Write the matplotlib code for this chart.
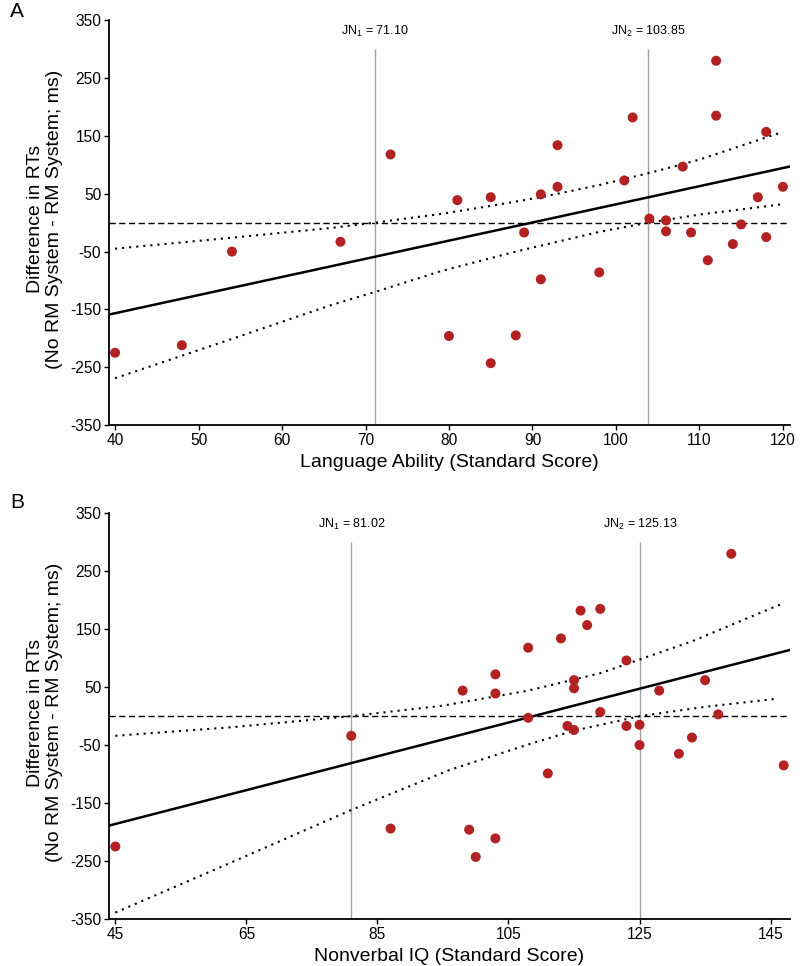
import matplotlib
matplotlib.use('Agg')
import matplotlib.pyplot as plt

plt.rcParams['font.family'] = ['Liberation Sans', 'DejaVu Sans']
plt.rcParams['axes.unicode_minus'] = False

# ---- panel A: language ability ----
lang = [40, 48, 54, 67, 73, 80, 81, 85, 85, 88, 89, 91, 91, 93, 93, 98,
        101, 102, 104, 106, 106, 108, 109, 111, 112, 112, 114, 115, 117, 118, 118, 120]
diff_a = [-225, -212, -50, -33, 118, -196, 39, 44, -243, -195, -17, 49, -98, 62, 134, -86,
          73, 182, 7, 4, -15, 97, -17, -65, 280, 185, -37, -3, 44, 157, -25, 62]

fit_a_x = [39.25, 120.8]
fit_a_y = [-159, 97]

band_a_up_x = [40, 54, 66, 71.1, 79, 85, 91, 98, 104, 110, 120]
band_a_up_y = [-45, -26, -9, 0, 15, 29, 44, 65, 86, 109, 157]
band_a_lo_x = [40, 54, 66, 71.1, 79, 88, 98, 103.85, 110, 120]
band_a_lo_y = [-269, -201, -142, -120, -84, -50, -16, 0, 14, 32]

jn_a = [71.10, 103.85]
xticks_a = [40, 50, 60, 70, 80, 90, 100, 110, 120]

# ---- panel B: nonverbal IQ ----
nviq = [45, 81, 87, 98, 99, 100, 103, 103, 103, 108, 108, 111, 113, 114, 115, 115,
        115, 116, 117, 119, 119, 123, 123, 125, 125, 128, 131, 133, 135, 137, 139, 147]
diff_b = [-225, -34, -194, 44, -196, -243, 72, 39, -211, 118, -3, -99, 134, -17, 62, 48,
          -24, 182, 157, 185, 7, 96, -17, -15, -50, 44, -65, -37, 62, 3, 280, -85]

fit_b_x = [44.0, 147.9]
fit_b_y = [-189, 114]

band_b_up_x = [45, 63, 81.02, 95, 108, 119, 133, 147]
band_b_up_y = [-34, -19, 0, 18, 44, 74, 129, 195]
band_b_lo_x = [45, 63, 81, 96, 108, 115, 125.13, 135, 146]
band_b_lo_y = [-339, -251, -162, -93, -49, -25, 0, 16, 30]

jn_b = [81.02, 125.13]
xticks_b = [45, 65, 85, 105, 125, 145]

yticks = [-350, -250, -150, -50, 50, 150, 250, 350]

dot_col = '#B22222'


def draw_panel(ax, x, y, fx, fy, ux, uy, lx, ly, jn, xticks, xlim, xlabel):
    ax.axhline(0, color='black', lw=1.0, dashes=(4.5, 2.5), zorder=1)
    ax.vlines(jn, -350, 300, color='#a0a0a0', lw=1.0, zorder=1)
    for i, v in enumerate(jn):
        ax.text(v, 331, r'JN$_\mathregular{%d}$ = %.2f' % (i + 1, v),
                ha='center', va='center', fontsize=9)
    ax.scatter(x, y, s=52, color=dot_col, edgecolors='none', zorder=3)
    ax.plot(fx, fy, color='black', lw=1.8, zorder=2)
    ax.plot(ux, uy, color='black', lw=1.5, linestyle=(0, (1, 2.4)), zorder=2)
    ax.plot(lx, ly, color='black', lw=1.5, linestyle=(0, (1, 2.4)), zorder=2)

    ax.set_xlim(xlim)
    ax.set_ylim(-350, 350)
    ax.set_xticks(xticks)
    ax.set_yticks(yticks)
    ax.spines['top'].set_visible(False)
    ax.spines['right'].set_visible(False)
    ax.spines['left'].set_linewidth(1.3)
    ax.spines['bottom'].set_linewidth(1.3)
    ax.tick_params(direction='out', length=3.5, width=1.0, pad=2, labelsize=11.2)
    ax.set_xlabel(xlabel, fontsize=14)
    ax.xaxis.set_label_coords(0.5, -0.071)
    ax.set_ylabel('Difference in RTs\n(No RM System - RM System; ms)', fontsize=14,
                  linespacing=1.15)
    ax.yaxis.set_label_coords(-0.068, 0.508)


fig = plt.figure(figsize=(8, 9.66), dpi=100)
ax_a = fig.add_axes([0.136, 0.560, 0.851, 0.419])
ax_b = fig.add_axes([0.136, 0.0487, 0.851, 0.420])

draw_panel(ax_a, lang, diff_a, fit_a_x, fit_a_y, band_a_up_x, band_a_up_y,
           band_a_lo_x, band_a_lo_y, jn_a, xticks_a, (39.25, 120.8),
           'Language Ability (Standard Score)')
draw_panel(ax_b, nviq, diff_b, fit_b_x, fit_b_y, band_b_up_x, band_b_up_y,
           band_b_lo_x, band_b_lo_y, jn_b, xticks_b, (44.0, 147.9),
           'Nonverbal IQ (Standard Score)')

fig.text(0.021, 0.9886, 'A', fontsize=15, ha='center', va='center')
fig.text(0.021, 0.4793, 'B', fontsize=15, ha='center', va='center')

fig.savefig('out.png', dpi=100)
